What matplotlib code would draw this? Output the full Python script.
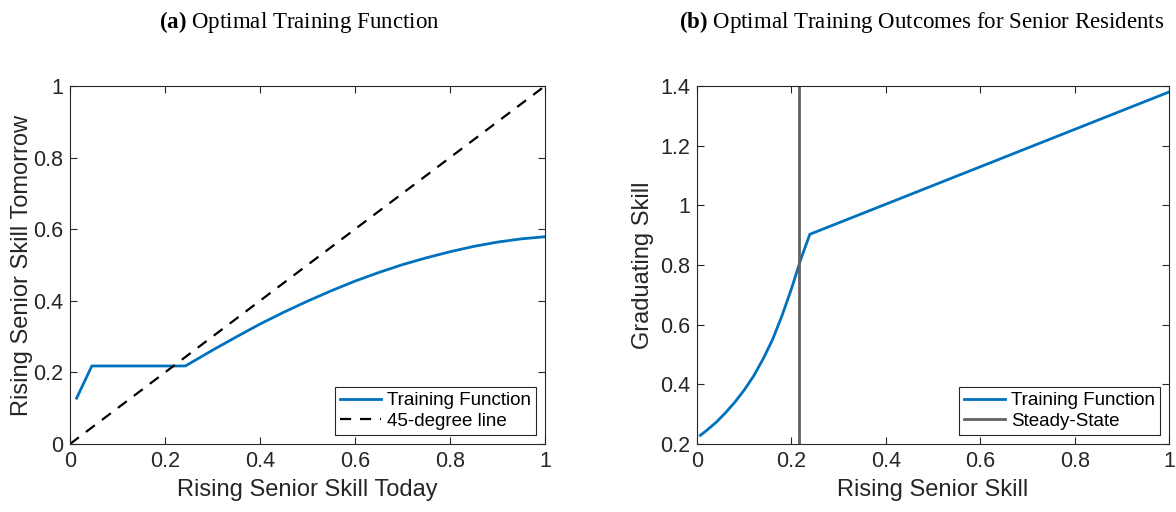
import numpy as np
import matplotlib
matplotlib.use("Agg")
import matplotlib.pyplot as plt

plt.rcParams['font.family'] = ['Liberation Sans', 'DejaVu Sans']
plt.rcParams['mathtext.fontset'] = 'custom'
plt.rcParams['mathtext.bf'] = 'Liberation Serif:bold'
plt.rcParams['mathtext.rm'] = 'Liberation Serif'

# panel (a): optimal training function
skill_today = [0.014, 0.046, 0.243, 0.30, 0.35, 0.40, 0.45, 0.50, 0.55, 0.60,
               0.65, 0.70, 0.75, 0.80, 0.85, 0.90, 0.95, 1.00]
skill_tomorrow = [0.128, 0.218, 0.218, 0.262, 0.299, 0.335, 0.368, 0.399, 0.428, 0.455,
                  0.479, 0.501, 0.520, 0.537, 0.552, 0.564, 0.573, 0.579]
diag = [0, 1]

# panel (b): graduating skill
senior_skill = [0.007, 0.02, 0.04, 0.06, 0.08, 0.10, 0.12, 0.14, 0.16, 0.18,
                0.20, 0.22, 0.239, 1.0]
grad_skill = [0.229, 0.245, 0.272, 0.304, 0.340, 0.381, 0.428, 0.485, 0.550, 0.630,
              0.720, 0.820, 0.903, 1.38]
steady_state = 0.217

blue = '#0072BD'
axcol = '#262626'

fig = plt.figure(figsize=(11.76, 5.12), dpi=100)
ax1 = fig.add_axes([0.0595, 0.1328, 0.4039, 0.6992])
ax2 = fig.add_axes([0.5927, 0.1328, 0.4014, 0.6992])

ax1.plot(skill_today, skill_tomorrow, color=blue, lw=2, label='Training Function')
ax1.plot(diag, diag, color='black', lw=1.6, ls=(0, (5, 4)), label='45-degree line')
ax1.set_xlim(0, 1)
ax1.set_ylim(0, 1)
ax1.set_xticks([0, 0.2, 0.4, 0.6, 0.8, 1])
ax1.set_xticklabels(['0', '0.2', '0.4', '0.6', '0.8', '1'])
ax1.set_yticks([0, 0.2, 0.4, 0.6, 0.8, 1])
ax1.set_yticklabels(['0', '0.2', '0.4', '0.6', '0.8', '1'])
ax1.set_xlabel('Rising Senior Skill Today', fontsize=17, color=axcol)
ax1.set_ylabel('Rising Senior Skill Tomorrow', fontsize=17, color=axcol, labelpad=0)

ax2.plot(senior_skill, grad_skill, color=blue, lw=2, label='Training Function')
ax2.axvline(steady_state, color='#626262', lw=2, label='Steady-State')
ax2.set_xlim(0, 1)
ax2.set_ylim(0.2, 1.4)
ax2.set_xticks([0, 0.2, 0.4, 0.6, 0.8, 1])
ax2.set_xticklabels(['0', '0.2', '0.4', '0.6', '0.8', '1'])
ax2.set_yticks([0.2, 0.4, 0.6, 0.8, 1, 1.2, 1.4])
ax2.set_yticklabels(['0.2', '0.4', '0.6', '0.8', '1', '1.2', '1.4'])
ax2.set_xlabel('Rising Senior Skill', fontsize=17, color=axcol)
ax2.set_ylabel('Graduating Skill', fontsize=17, color=axcol, labelpad=4)

for ax in (ax1, ax2):
    for s in ax.spines.values():
        s.set_color(axcol)
        s.set_linewidth(0.8)
    ax.tick_params(direction='in', top=True, right=True, labelsize=15.5,
                   colors=axcol, length=5, width=0.8, pad=5)
    ax.xaxis.labelpad = 5
    leg = ax.legend(loc='lower right', fontsize=13.5, fancybox=False,
                    edgecolor=axcol, framealpha=1, borderaxespad=0.5,
                    handlelength=2.2, handletextpad=0.3, borderpad=0.25,
                    labelspacing=0.2)
    leg.get_frame().set_linewidth(0.8)

fig.text(299 / 1176, 1 - 28 / 512, r'$\mathbf{(a)}$ Optimal Training Function',
         fontsize=16.5, family='Liberation Serif', ha='center', va='baseline', color='black')
fig.text(922 / 1176, 1 - 28 / 512, r'$\mathbf{(b)}$ Optimal Training Outcomes for Senior Residents',
         fontsize=16.5, family='Liberation Serif', ha='center', va='baseline', color='black')

fig.savefig('out.png', dpi=100)
